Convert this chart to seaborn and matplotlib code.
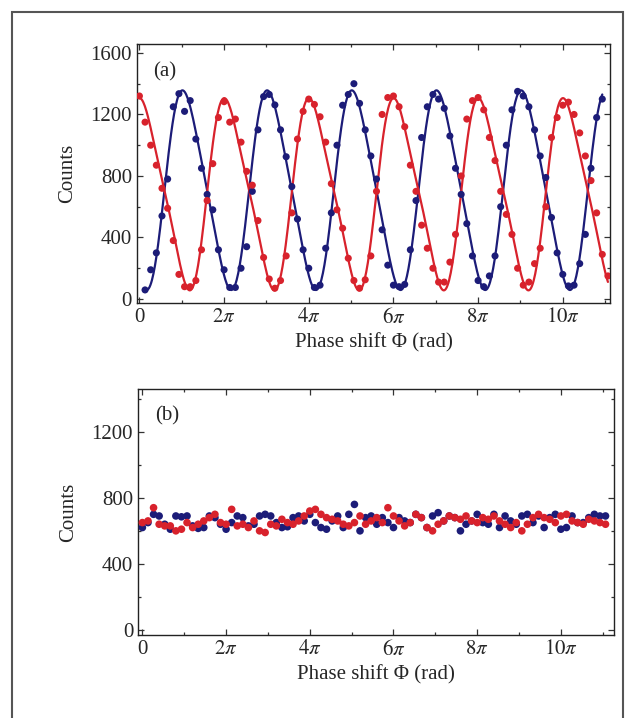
import numpy as np
import pandas as pd
import matplotlib
matplotlib.use("Agg")
import matplotlib.pyplot as plt
from matplotlib.ticker import MultipleLocator, FixedLocator
from matplotlib.patches import Rectangle
import seaborn as sns

# phase step of the scan: 2*pi/15 per point, 84 points
step = 2 * np.pi / 15
n_pts = 84

# (a) interference fringes, counts
red_a = [1320, 1150, 1000, 870, 720, 590, 380, 160, 80, 80, 120, 320, 640, 880, 1180,
         1283, 1150, 1170, 1020, 830, 740, 510, 270, 130, 70, 120, 280, 560, 1040, 1220,
         1300, 1265, 1185, 1020, 750, 580, 460, 265, 120, 70, 125, 280, 700, 1200, 1310,
         1320, 1250, 1120, 870, 700, 480, 330, 200, 110, 110, 240, 420, 800, 1170, 1290,
         1310, 1230, 1050, 900, 700, 550, 420, 200, 90, 110, 230, 330, 600, 1050, 1180,
         1260, 1280, 1200, 1080, 930, 770, 560, 290, 150]
blue_a = [np.nan, 59, 190, 300, 540, 780, 1250, 1335, 1220, 1290, 1040, 850, 680, 580, 320,
          190, 75, 75, 200, 340, 700, 1100, 1316, 1330, 1262, 1100, 925, 731, 520, 320,
          200, 75, 90, 330, 560, 1000, 1260, 1330, 1400, 1272, 1100, 930, 780, 450, 220,
          90, 80, 95, 320, 640, 1050, 1250, 1330, 1300, 1240, 1060, 850, 680, 490, 280,
          120, 80, 150, 280, 600, 1000, 1230, 1350, 1320, 1250, 1100, 930, 790, 530, 300,
          160, 85, 90, 230, 420, 850, 1180, 1300, np.nan]

# (b) no interference
red_b = [650, 660, 740, 640, 630, 630, 600, 610, 650, 620, 640, 660, 680, 700, 650,
         640, 730, 630, 640, 620, 660, 600, 590, 640, 630, 670, 650, 640, 660, 690,
         720, 730, 700, 680, 670, 660, 640, 630, 650, 690, 640, 660, 680, 650, 740,
         690, 660, 630, 650, 700, 680, 620, 600, 640, 660, 690, 680, 670, 690, 660,
         650, 680, 670, 690, 660, 640, 620, 650, 600, 640, 680, 700, 680, 670, 650,
         690, 700, 660, 650, 640, 670, 660, 650, 640]
blue_b = [620, 650, 700, 690, 640, 610, 690, 685, 690, 630, 615, 620, 690, 680, 640,
          610, 650, 690, 680, 630, 640, 690, 700, 690, 650, 620, 625, 680, 690, 660,
          700, 650, 620, 610, 660, 690, 620, 700, 760, 600, 680, 690, 640, 680, 650,
          620, 680, 660, 650, 700, 680, 620, 690, 710, 660, 690, 680, 600, 640, 660,
          700, 650, 640, 700, 620, 690, 660, 640, 690, 700, 650, 690, 620, 680, 700,
          610, 620, 690, 650, 650, 680, 700, 690, 690]

phi = np.arange(n_pts) * step

red_c = "#d8222c"
blue_c = "#1c1c78"

sns.set_theme(style="ticks")
plt.rcParams["font.family"] = ["Liberation Serif", "DejaVu Serif"]
plt.rcParams["mathtext.fontset"] = "stix"


def fringe_fit(x, y):
    # least squares fit with first and second harmonic (period 2 pi)
    ok = ~np.isnan(y)
    xs, ys = x[ok], y[ok]
    A = np.column_stack([np.ones_like(xs), np.cos(xs), np.sin(xs), np.cos(2 * xs), np.sin(2 * xs)])
    c, *_ = np.linalg.lstsq(A, ys, rcond=None)
    xf = np.linspace(xs.min(), xs.max(), 600)
    Af = np.column_stack([np.ones_like(xf), np.cos(xf), np.sin(xf), np.cos(2 * xf), np.sin(2 * xf)])
    return xf, Af @ c


def style_axes(ax, ylim, ymajor, label):
    ax.xaxis.set_major_locator(FixedLocator([k * np.pi for k in range(0, 12, 2)]))
    ax.xaxis.set_minor_locator(FixedLocator([k * np.pi for k in range(1, 12, 2)]))
    ax.set_xticklabels(["0"] + [r"$%d\pi$" % k for k in range(2, 12, 2)])
    ax.yaxis.set_major_locator(MultipleLocator(ymajor))
    ax.yaxis.set_minor_locator(MultipleLocator(ymajor / 2))
    ax.set_ylim(*ylim)
    ax.tick_params(which="both", direction="in", top=True, right=True, labelsize=15,
                   color="#333333", width=0.9)
    ax.tick_params(which="major", length=4)
    ax.tick_params(which="minor", length=2.5)
    for s in ax.spines.values():
        s.set_linewidth(1.0)
        s.set_color("#222222")
    ax.set_xlabel("Phase shift \u03a6 (rad)", fontsize=15, labelpad=4)
    ax.set_ylabel("Counts", fontsize=15, labelpad=10)
    ax.text(0.035, 0.93, label, transform=ax.transAxes, fontsize=15, va="top", ha="left")


fig = plt.figure(figsize=(6.38, 7.18), dpi=100)
ax1 = fig.add_axes([0.2147, 0.578, 0.7414, 0.3607])
ax2 = fig.add_axes([0.2163, 0.1156, 0.746, 0.3426])

dfa = pd.DataFrame({"phi": phi, "red": red_a, "blue": blue_a})
dfb = pd.DataFrame({"phi": phi, "red": red_b, "blue": blue_b})

for col, c in [("blue", blue_c), ("red", red_c)]:
    xf, yf = fringe_fit(phi, np.array(dfa[col], dtype=float))
    sns.lineplot(x=xf, y=yf, ax=ax1, color=c, lw=1.6, zorder=2)
    sns.scatterplot(data=dfa, x="phi", y=col, ax=ax1, color=c, s=26, edgecolor="none", zorder=3)

for col, c in [("blue", blue_c), ("red", red_c)]:
    sns.scatterplot(data=dfb, x="phi", y=col, ax=ax2, color=c, s=30, edgecolor="none", zorder=3)

ax1.set_xlim(-0.18, 34.92)
ax2.set_xlim(-0.33, 35.4)
style_axes(ax1, (-26, 1658), 400, "(a)")
style_axes(ax2, (-30, 1458), 400, "(b)")

# scanned page frame
fig.patches.append(Rectangle((12 / 638, -0.05), 611 / 638, 1.05 - 12 / 718,
                             transform=fig.transFigure, fill=False, ec="#555555", lw=1.5))

fig.savefig("out.png", dpi=100)
